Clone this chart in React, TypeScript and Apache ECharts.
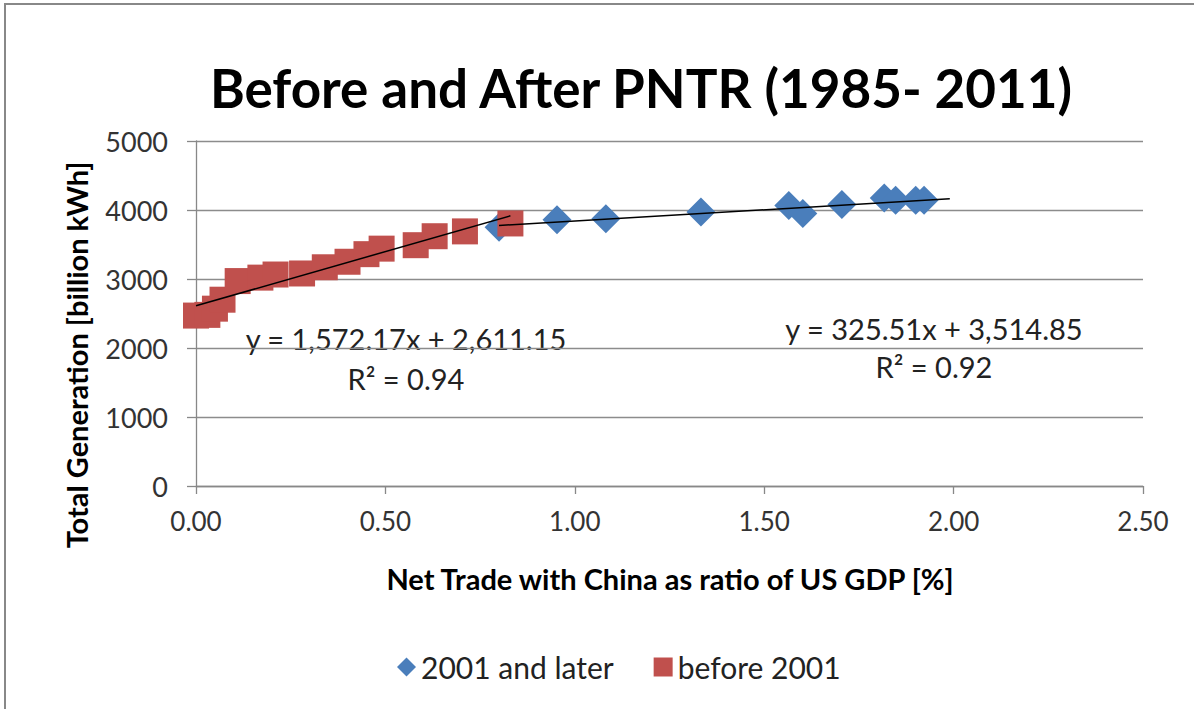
import React, { useEffect, useRef } from "react";
import * as echarts from "echarts";

const TITLE = "Before and After PNTR (1985- 2011)";
const X_NAME = "Net Trade with China as ratio of US GDP [%]";
const Y_NAME = "Total Generation [billion kWh]";
const SERIES_AFTER = "2001 and later";
const SERIES_BEFORE = "before 2001";

// 2001 and later: [net trade ratio %, total generation billion kWh]
const afterX = [0.8, 0.953, 1.082, 1.333, 1.565, 1.602, 1.705, 1.817, 1.847, 1.9, 1.922];
const afterY = [3750, 3860, 3875, 3970, 4065, 3950, 4080, 4175, 4140, 4140, 4140];

// before 2001
const beforeX = [0.0, 0.03, 0.05, 0.07, 0.11, 0.17, 0.21, 0.28, 0.34, 0.4, 0.45, 0.49, 0.58, 0.63, 0.71, 0.83];
const beforeY = [2470, 2480, 2570, 2700, 2970, 3020, 3065, 3080, 3170, 3250, 3360, 3440, 3490, 3620, 3690, 3805];

// trendline coefficients (slope, intercept) and x-extent
const trendBefore = { slope: 1572.17, intercept: 2611.15, x0: 0.0, x1: 0.83, r2: 0.94 };
const trendAfter = { slope: 325.51, intercept: 3514.85, x0: 0.8, x1: 1.99, r2: 0.92 };

const fmt = (v: number) =>
  v.toLocaleString("en-US", { minimumFractionDigits: 2, maximumFractionDigits: 2 });

const FONT = "Lato, 'Open Sans', sans-serif";

export default function App() {
  const ref = useRef<HTMLDivElement>(null);
  useEffect(() => {
    if (!ref.current) return;
    const chart = echarts.init(ref.current, undefined, { renderer: "svg" });
    const zip = (xs: number[], ys: number[]) => xs.map((x, i) => [x, ys[i]]);
    const line = (t: typeof trendBefore) => [
      [t.x0, t.slope * t.x0 + t.intercept],
      [t.x1, t.slope * t.x1 + t.intercept],
    ];
    const label = (x: number, y: number, text: string) => ({
      type: "text",
      x,
      y,
      style: {
        text,
        fontSize: 29,
        fontFamily: FONT,
        fill: "#222",
        align: "center",
        verticalAlign: "middle",
      },
    });
    chart.setOption({
      animation: false,
      backgroundColor: "#fff",
      textStyle: { fontFamily: FONT },
      grid: { left: 196, right: 51, top: 141, bottom: 223, containLabel: false },
      xAxis: {
        type: "value",
        min: 0,
        max: 2.5,
        interval: 0.5,
        axisLine: { show: true, lineStyle: { color: "#888", width: 1.3 } },
        axisTick: { show: true, inside: false, length: 8, lineStyle: { color: "#888", width: 1.3 } },
        splitLine: { show: false },
        axisLabel: {
          color: "#333",
          fontSize: 26,
          margin: 22,
          fontFamily: FONT,
          formatter: (v: number) => v.toFixed(2),
        },
      },
      yAxis: {
        type: "value",
        min: 0,
        max: 5000,
        interval: 1000,
        axisLine: { show: true, lineStyle: { color: "#888", width: 1.3 } },
        axisTick: { show: true, inside: false, length: 9, lineStyle: { color: "#888", width: 1.3 } },
        splitLine: { show: true, lineStyle: { color: "#8c8c8c", width: 1.3 } },
        axisLabel: {
          color: "#333",
          fontSize: 27,
          margin: 28,
          fontFamily: FONT,
          formatter: (v: number) => String(v),
        },
      },
      legend: {
        data: [
          { name: SERIES_AFTER, icon: "diamond" },
          { name: SERIES_BEFORE, icon: "rect" },
        ],
        left: 392,
        top: 647,
        itemWidth: 19,
        itemHeight: 19,
        itemGap: 40,
        textStyle: { fontSize: 30, color: "#222", fontFamily: FONT },
      },
      series: [
        {
          name: SERIES_AFTER,
          type: "scatter",
          symbol: "diamond",
          symbolSize: 29,
          itemStyle: { color: "#4a7ebb", opacity: 1 },
          data: zip(afterX, afterY),
          z: 2,
        },
        {
          name: SERIES_BEFORE,
          type: "scatter",
          symbol: "rect",
          symbolSize: 26,
          itemStyle: { color: "#c0504d", opacity: 1 },
          data: zip(beforeX, beforeY),
          z: 3,
        },
        {
          name: "trend-before",
          type: "line",
          data: line(trendBefore),
          showSymbol: false,
          symbol: "none",
          lineStyle: { color: "#000", width: 1.5 },
          z: 5,
          silent: true,
        },
        {
          name: "trend-after",
          type: "line",
          data: line(trendAfter),
          showSymbol: false,
          symbol: "none",
          lineStyle: { color: "#000", width: 1.5 },
          z: 5,
          silent: true,
        },
      ],
      graphic: [
        {
          type: "rect",
          shape: { x: 5, y: 4, width: 1400, height: 900 },
          style: { fill: "none", stroke: "#888", lineWidth: 2 },
          z: 0,
          silent: true,
        },
        {
          type: "text",
          x: 641,
          y: 87,
          style: {
            text: TITLE,
            fontSize: 53,
            fontWeight: "bold",
            fontFamily: FONT,
            fill: "#000",
            align: "center",
            verticalAlign: "middle",
          },
        },
        {
          type: "text",
          x: 76,
          y: 355,
          rotation: Math.PI / 2,
          style: {
            text: Y_NAME,
            fontSize: 29,
            fontWeight: "bold",
            fontFamily: FONT,
            fill: "#000",
            align: "center",
            verticalAlign: "middle",
          },
        },
        {
          type: "text",
          x: 670,
          y: 578,
          style: {
            text: X_NAME,
            fontSize: 29,
            fontWeight: "bold",
            fontFamily: FONT,
            fill: "#000",
            align: "center",
            verticalAlign: "middle",
          },
        },
        label(406, 338, `y = ${fmt(trendBefore.slope)}x + ${fmt(trendBefore.intercept)}`),
        label(406, 378, `R² = ${trendBefore.r2.toFixed(2)}`),
        label(934, 328, `y = ${fmt(trendAfter.slope)}x + ${fmt(trendAfter.intercept)}`),
        label(934, 366, `R² = ${trendAfter.r2.toFixed(2)}`),
      ],
    });
    return () => chart.dispose();
  }, []);
  return (
    <div
      ref={ref}
      style={{ position: "fixed", left: 0, top: 0, width: 1194, height: 709, background: "#fff" }}
    />
  );
}
